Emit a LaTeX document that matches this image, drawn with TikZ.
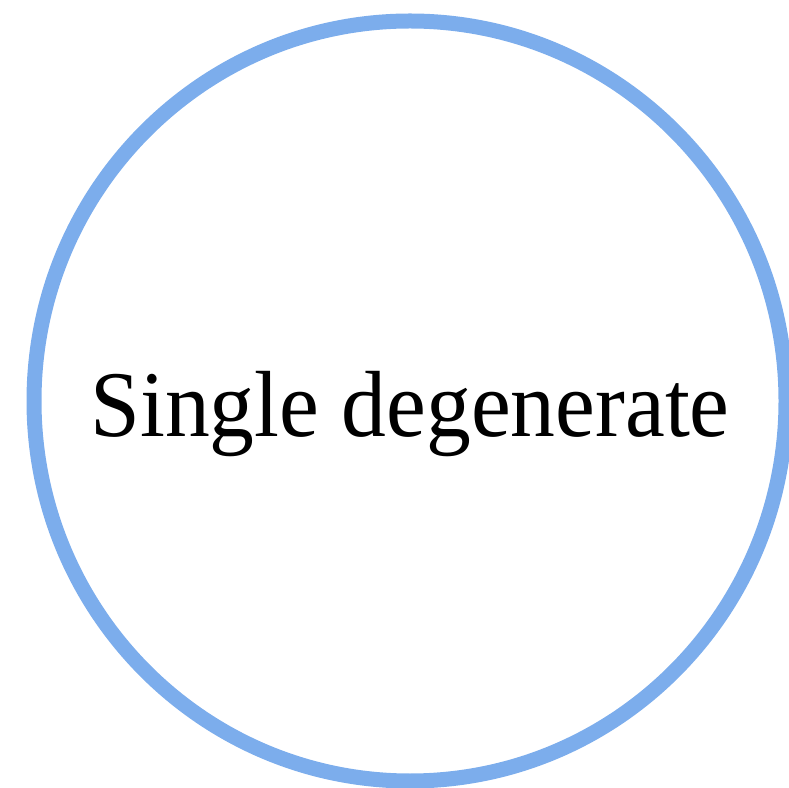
\documentclass[tikz,border=0pt]{standalone}
\usepackage{fontspec}
\setmainfont{Liberation Serif}
\definecolor{ringblue}{RGB}{124,173,236}
\begin{document}
\begin{tikzpicture}[x=1pt,y=1pt,
  ring/.style={draw=ringblue,line width=15pt},
  label/.style={font=\fontsize{94}{100}\selectfont,inner sep=0pt,anchor=base,xscale=0.953}]
\useasboundingbox (0,0) rectangle (789,787);
\clip (0,0) rectangle (789,787);
\draw[ring] (410,386) ellipse [x radius=376, y radius=380];
\node[label] (t) at (410,350) {Single degenerate};
\end{tikzpicture}
\end{document}
